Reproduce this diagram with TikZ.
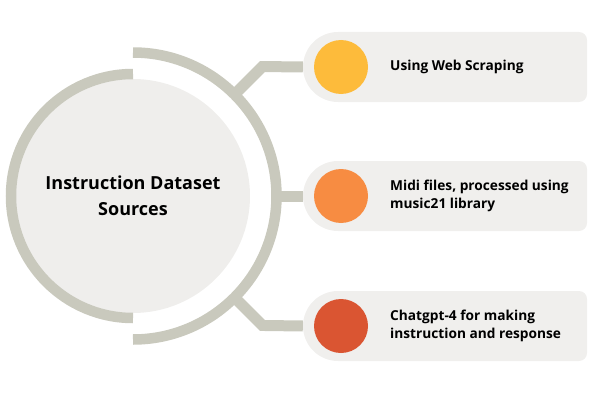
\documentclass[tikz,border=0pt]{standalone}
\usepackage{fontspec}
\setmainfont{Open Sans}
\usetikzlibrary{calc}
\definecolor{ringgray}{HTML}{C9C9BD}
\definecolor{boxfill}{HTML}{F0EFED}
\definecolor{diskfill}{HTML}{EFEEEC}
\definecolor{cyellow}{HTML}{FDBB3B}
\definecolor{corange}{HTML}{F78C42}
\definecolor{cred}{HTML}{DA5532}
\begin{document}
\begin{tikzpicture}[x=1pt,y=1pt,
  ring/.style={draw=ringgray,line width=10.5pt},
  conn/.style={draw=ringgray,line width=11pt},
  dot/.style={circle,minimum size=54pt,inner sep=0pt},
  lbl/.style={anchor=west,align=left,font=\fontsize{13.7}{18}\selectfont\bfseries,text=black,inner sep=0pt},
  boxanchor/.style={inner sep=0pt,minimum width=284pt,minimum height=70pt}]
\useasboundingbox (0,0) rectangle (600,400);
% central disk
\node[circle,fill=diskfill,minimum size=234pt,inner sep=0pt,align=center,
  font=\fontsize{18}{26}\selectfont\bfseries] (c) at (133,204) {Instruction Dataset\\Sources};
% rings
\draw[ring] (133,326) arc[start angle=90,end angle=270,radius=122];
\draw[ring] (133,60.5) arc[start angle=-90,end angle=90,radius=143.5];
% boxes
\foreach \y/\n in {333/b1,204/b2,74/b3}{
  \fill[boxfill] (338,\y+35) [rounded corners=8pt] -- (587,\y+35) -- (587,\y-35) [sharp corners] -- (338,\y-35) arc[start angle=270,end angle=90,radius=35];
  \node[boxanchor] (\n) at (445,\y) {};
}
% connectors
\coordinate (r1) at ($(c.center)+(45:143.5)$);
\coordinate (r2) at ($(c.center)+(0:143.5)$);
\coordinate (r3) at ($(c.center)+(-45:143.5)$);
\draw[conn] (r1) -- ++(28,28) -- (b1.west);
\draw[conn] (r2) -- (b2.west);
\draw[conn] (r3) -- ++(28,-28) -- (b3.west);
% dots
\node[dot,fill=cyellow] (d1) at (341,333) {};
\node[dot,fill=corange] (d2) at (341,204) {};
\node[dot,fill=cred] (d3) at (341,74) {};
% labels
\node[lbl] (t1) at (390,333) {Using Web Scraping};
\node[lbl] (t2) at (390,204) {Midi files, processed using\\music21 library};
\node[lbl] (t3) at (390,74) {Chatgpt-4 for making\\instruction and response};
\end{tikzpicture}
\end{document}
